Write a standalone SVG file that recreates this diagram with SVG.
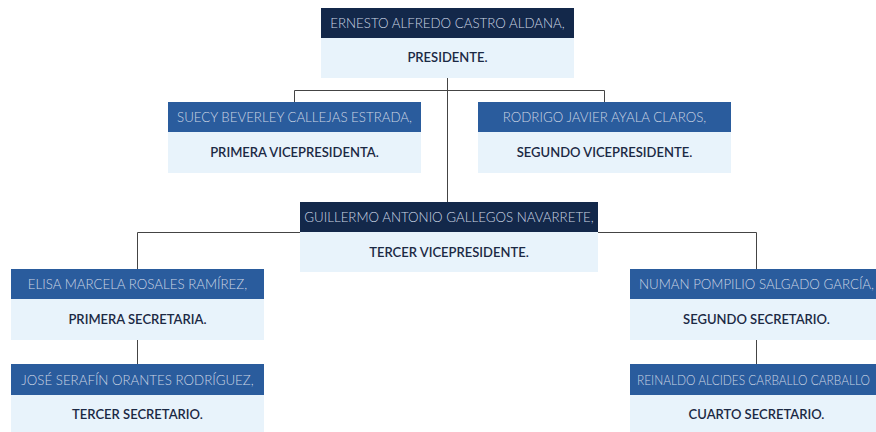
<svg xmlns="http://www.w3.org/2000/svg" width="876" height="432" viewBox="0 0 876 432">
<style>
.hd{fill:#2a5c9d}
.hd.dk{fill:#13284a}
.bd{fill:#e8f3fb}
.nm{font-family:Lato,"Open Sans",sans-serif;font-weight:300;font-size:13.3px;fill:#cbd5e4;text-anchor:middle}
.rl{font-family:Lato,"Open Sans",sans-serif;font-weight:600;font-size:13px;fill:#1b2944;text-anchor:middle}
.ln{fill:none;stroke:#444;stroke-width:1}
</style>
<rect width="876" height="432" fill="#fff"/>
<g id="connectors">
<path class="ln" d="M447.5 78 V202"/>
<path class="ln" d="M294.5 102 V90.5 H604.5 V102"/>
<path class="ln" d="M137.5 269 V232.5 H756.5 V269"/>
<path class="ln" d="M137.5 339 V364"/>
<path class="ln" d="M756.5 339 V364"/>
</g>
<g id="n-presidente">
<rect class="hd dk" x="321" y="8" width="253" height="30"/>
<rect class="bd" x="321" y="38" width="253" height="40"/>
<text class="nm" x="447.5" y="28">ERNESTO ALFREDO CASTRO ALDANA,</text>
<text class="rl" x="447.5" y="62">PRESIDENTE.</text>
</g>
<g id="n-vp1">
<rect class="hd" x="168" y="102" width="253" height="30"/>
<rect class="bd" x="168" y="132" width="253" height="41"/>
<text class="nm" x="294.5" y="122">SUECY BEVERLEY CALLEJAS ESTRADA,</text>
<text class="rl" x="294.5" y="157">PRIMERA VICEPRESIDENTA.</text>
</g>
<g id="n-vp2">
<rect class="hd" x="478" y="102" width="253" height="30"/>
<rect class="bd" x="478" y="132" width="253" height="41"/>
<text class="nm" x="604.5" y="122">RODRIGO JAVIER AYALA CLAROS,</text>
<text class="rl" x="604.5" y="157">SEGUNDO VICEPRESIDENTE.</text>
</g>
<g id="n-vp3">
<rect class="hd dk" x="300" y="202" width="298" height="30"/>
<rect class="bd" x="300" y="232" width="298" height="40"/>
<text class="nm" x="449" y="222">GUILLERMO ANTONIO GALLEGOS NAVARRETE,</text>
<text class="rl" x="449" y="256.5">TERCER VICEPRESIDENTE.</text>
</g>
<g id="n-sec1">
<rect class="hd" x="11" y="269" width="253" height="30"/>
<rect class="bd" x="11" y="299" width="253" height="41"/>
<text class="nm" x="137.5" y="289">ELISA MARCELA ROSALES RAMÍREZ,</text>
<text class="rl" x="137.5" y="324">PRIMERA SECRETARIA.</text>
</g>
<g id="n-sec3">
<rect class="hd" x="11" y="364" width="253" height="31"/>
<rect class="bd" x="11" y="395" width="253" height="40"/>
<text class="nm" x="137.5" y="384.5">JOSÉ SERAFÍN ORANTES RODRÍGUEZ,</text>
<text class="rl" x="137.5" y="419">TERCER SECRETARIO.</text>
</g>
<g id="n-sec2">
<rect class="hd" x="630" y="269" width="253" height="30"/>
<rect class="bd" x="630" y="299" width="253" height="41"/>
<text class="nm" x="756.5" y="289">NUMAN POMPILIO SALGADO GARCÍA,</text>
<text class="rl" x="756.5" y="324">SEGUNDO SECRETARIO.</text>
</g>
<g id="n-sec4">
<rect class="hd" x="630" y="364" width="253" height="31"/>
<rect class="bd" x="630" y="395" width="253" height="40"/>
<text class="nm" x="637" y="384.5" style="text-anchor:start" textLength="233" lengthAdjust="spacingAndGlyphs">REINALDO ALCIDES CARBALLO CARBALLO</text>
<text class="rl" x="756.5" y="419">CUARTO SECRETARIO.</text>
</g>
</svg>
